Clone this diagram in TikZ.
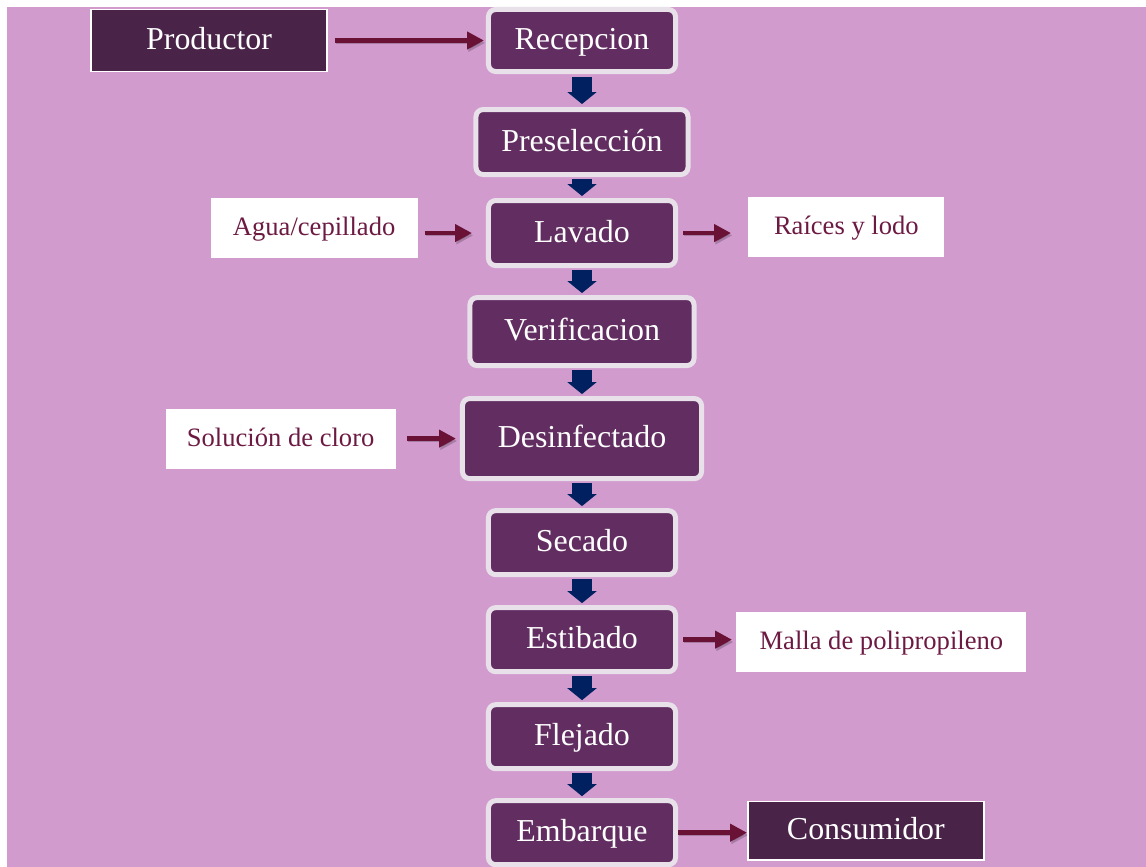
\documentclass[tikz,border=0pt]{standalone}
\usepackage{fontspec}
\setmainfont{Liberation Serif}
\usetikzlibrary{arrows.meta, positioning}
\definecolor{bgpink}{HTML}{D19BCE}
\definecolor{stepfill}{HTML}{622D61}
\definecolor{stepline}{HTML}{E9E1EA}
\definecolor{endfill}{HTML}{4A2349}
\definecolor{labelred}{HTML}{6D1A43}
\definecolor{arrowred}{HTML}{6A1236}
\definecolor{downblue}{HTML}{002060}

\begin{document}
\begin{tikzpicture}[
    x=0.025cm, y=-0.025cm,
    node distance=0.675cm,
    stepbox/.style={draw=stepline, line width=0.125cm, fill=stepfill, rounded corners=0.18cm, minimum width=4.675cm, minimum height=1.6cm, text height=0.55cm, text depth=0.1cm, text=white, font=\fontsize{22.7}{26}\selectfont},
    endbox/.style={draw=white, line width=0.04cm, fill=endfill, minimum width=5.9cm, minimum height=1.46cm, text height=0.55cm, text depth=0.1cm, text=white, font=\fontsize{22.7}{26}\selectfont},
    inbox/.style={fill=white, minimum height=1.5cm, text height=0.46cm, text depth=0.08cm, text=labelred, font=\fontsize{18.9}{22}\selectfont},
    downarrow/.style={-{Triangle[width=0.72cm,length=0.3cm]}, line width=0.5cm, draw=downblue, shorten <=0.05cm, shorten >=0.05cm},
    sidearrow/.style={-{Triangle[width=0.42cm,length=0.42cm]}, line width=0.115cm, draw=arrowred,
        preaction={draw=black, opacity=0.2, transform canvas={shift={(0.03cm,-0.06cm)}}}}
]
\useasboundingbox (0,0) rectangle (1146,867);
\fill[white] (0,0) rectangle (1146,867);
\fill[bgpink] (7,7) rectangle (1146,867);
% main column
\node[stepbox, minimum height=1.55cm] (recep) at (582,40.5) {Recepcion};
\node[stepbox, below=0.825cm of recep, minimum width=5.3cm, minimum height=1.625cm] (presel) {Preselección};
\node[stepbox, below=0.525cm of presel, minimum height=1.625cm] (lavado) {Lavado};
\node[stepbox, below=of lavado, minimum width=5.6cm, minimum height=1.7cm] (verif) {Verificacion};
\node[stepbox, below=0.7cm of verif, minimum width=5.975cm, minimum height=2cm] (desinf) {Desinfectado};
\node[stepbox, below=of desinf] (secado) {Secado};
\node[stepbox, below=0.7cm of secado] (estib) {Estibado};
\node[stepbox, below=0.7cm of estib] (flejado) {Flejado};
\node[stepbox, below=of flejado] (embarque) {Embarque};
% side boxes
\node[endbox, left=3.95cm of recep, minimum height=1.55cm] (productor) {Productor};
\node[inbox, left=1.7cm of lavado, yshift=0.125cm, minimum width=5.175cm] (agua) {Agua/cepillado};
\node[inbox, right=1.75cm of lavado, yshift=0.15cm, minimum width=4.9cm] (raices) {Raíces y lodo};
\node[inbox, left=1.6cm of desinf, minimum width=5.75cm] (cloro) {Solución de cloro};
\node[inbox, right=1.45cm of estib, yshift=-0.05cm, minimum width=7.25cm] (malla) {Malla de polipropileno};
\node[endbox, right=1.725cm of embarque, yshift=0.05cm] (consumidor) {Consumidor};
% flow
\draw[downarrow, shorten <=0.075cm, shorten >=0.075cm] (recep) -- (presel);
\draw[downarrow] (presel) -- (lavado);
\draw[downarrow] (lavado) -- (verif);
\draw[downarrow] (verif) -- (desinf);
\draw[downarrow] (desinf) -- (secado);
\draw[downarrow] (secado) -- (estib);
\draw[downarrow] (estib) -- (flejado);
\draw[downarrow] (flejado) -- (embarque);
% inputs and outputs
\draw[sidearrow, shorten <=0.175cm, shorten >=0.05cm] (recep.west -| productor.east) -- (recep.west);
\draw[sidearrow, shorten <=0.175cm, shorten >=0.35cm] (lavado.west -| agua.east) -- (lavado.west);
\draw[sidearrow, shorten <=0.125cm, shorten >=0.425cm] (lavado.east) -- (lavado.east -| raices.west);
\draw[sidearrow, shorten <=0.275cm, shorten >=0.1cm] (cloro.east) -- (cloro.east -| desinf.west);
\draw[sidearrow, shorten <=0.125cm, shorten >=0.1cm] (estib.east) -- (estib.east -| malla.west);
\draw[sidearrow] (embarque.east) -- (embarque.east -| consumidor.west);
\end{tikzpicture}
\end{document}
